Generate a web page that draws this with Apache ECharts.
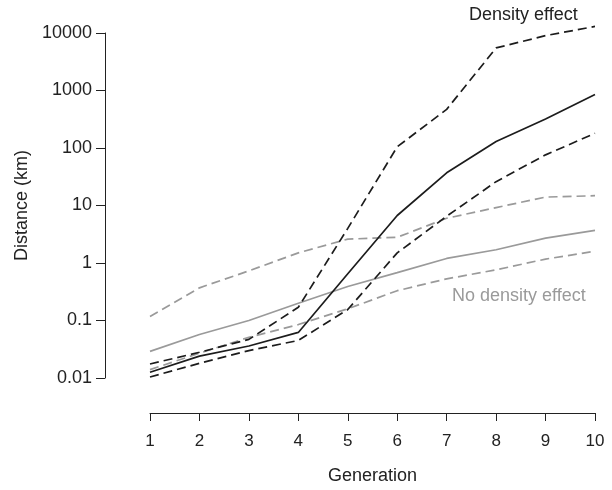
<!DOCTYPE html>
<html>
<head>
<meta charset="utf-8">
<script src="https://cdn.jsdelivr.net/npm/echarts@6/dist/echarts.min.js"></script>
<style>
  html, body { margin: 0; padding: 0; background: #fff; }
  #main { width: 612px; height: 490px; }
</style>
</head>
<body>
<div id="main"></div>
<script>
var generations = [1, 2, 3, 4, 5, 6, 7, 8, 9, 10];
var yTicks = [0.01, 0.1, 1, 10, 100, 1000, 10000];

// density effect: mean and dashed bounds
var densityMean  = [0.0126, 0.024, 0.036, 0.062, 0.65, 6.7, 37, 130, 320, 850];
var densityUpper = [0.0175, 0.028, 0.047, 0.17, 4, 105, 470, 5500, 9000, 13000];
var densityLower = [0.0104, 0.018, 0.030, 0.045, 0.155, 1.5, 6.5, 26, 76, 180];

// no density effect
var noDensMean  = [0.029, 0.057, 0.1, 0.2, 0.39, 0.68, 1.2, 1.7, 2.7, 3.7];
var noDensUpper = [0.117, 0.37, 0.73, 1.5, 2.6, 2.8, 6, 9.2, 14, 14.8];
var noDensLower = [0.014, 0.027, 0.051, 0.085, 0.16, 0.33, 0.53, 0.76, 1.17, 1.6];

var FONT = 'Liberation Sans, Arial, sans-serif';
var BLACK = '#1c1c1c';
var GREY = '#9a9a9a';

function pairs(vals) {
    return generations.map(function (g, i) { return [g, vals[i]]; });
}

function line(name, vals, color, dashed) {
    return {
        name: name,
        type: 'line',
        data: pairs(vals),
        symbol: 'none',
        silent: true,
        clip: false, // upper bound goes a bit over 10000
        animation: false,
        lineStyle: { color: color, width: 1.7, type: dashed ? [9, 5] : 'solid' }
    };
}

var myChart = echarts.init(document.getElementById('main'));
var options = {
    backgroundColor: '#fff',
    animation: false,
    grid: { left: 150, right: 17, top: 33, bottom: 109, containLabel: false },
    xAxis: {
        type: 'value',
        min: 1, max: 10, interval: 1,
        offset: 35,
        name: 'Generation',
        nameLocation: 'middle',
        nameGap: 54,
        nameTextStyle: { fontFamily: FONT, fontSize: 18, color: '#222' },
        axisLine: { show: true, lineStyle: { color: '#222', width: 1 } },
        axisTick: { show: true, length: 8, lineStyle: { color: '#222' } },
        axisLabel: { margin: 20, fontFamily: FONT, fontSize: 17, color: '#222' },
        splitLine: { show: false }
    },
    yAxis: {
        type: 'log',
        logBase: 10,
        min: 0.01, max: 10000,
        offset: 45,
        name: 'Distance (km)',
        nameLocation: 'middle',
        nameRotate: 90,
        nameGap: 74,
        nameTextStyle: { fontFamily: FONT, fontSize: 18, color: '#222' },
        axisLine: { show: true, lineStyle: { color: '#222', width: 1 } },
        axisTick: { show: true, length: 9, lineStyle: { color: '#222' } },
        axisLabel: {
            margin: 13, fontFamily: FONT, fontSize: 18, color: '#222',
            formatter: function (v) {
                for (var i = 0; i < yTicks.length; i++) {
                    if (Math.abs(v - yTicks[i]) < yTicks[i] * 1e-6) return String(yTicks[i]);
                }
                return '';
            }
        },
        splitLine: { show: false }
    },
    series: [
        line('no density upper', noDensUpper, GREY, true),
        line('no density lower', noDensLower, GREY, true),
        line('no density mean', noDensMean, GREY, false),
        line('density upper', densityUpper, BLACK, true),
        line('density lower', densityLower, BLACK, true),
        line('density mean', densityMean, BLACK, false)
    ],
    graphic: [
        {
            type: 'text', left: 469, top: 6,
            style: { text: 'Density effect', font: '18px ' + FONT, fill: '#222' }
        },
        {
            type: 'text', left: 452, top: 287,
            style: { text: 'No density effect', font: '18px ' + FONT, fill: GREY }
        }
    ]
};
myChart.setOption(options);
</script>
</body>
</html>
